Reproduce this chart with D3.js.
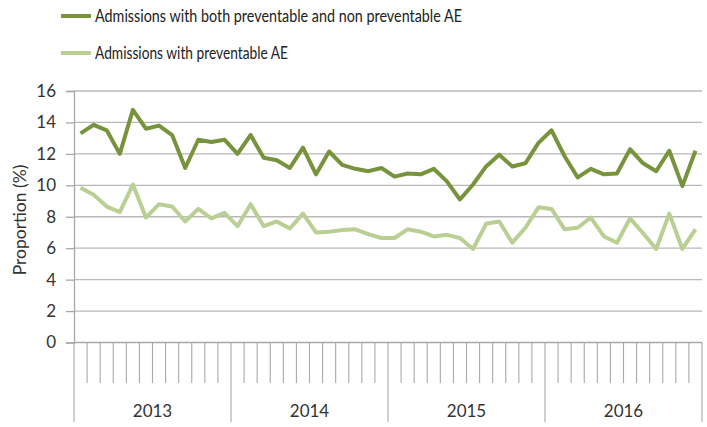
<!DOCTYPE html>
<html><head><meta charset="utf-8">
<script src="https://cdn.jsdelivr.net/npm/d3@7"></script>
<style>body{margin:0;background:#fff}svg{display:block}</style>
</head><body>
<svg id="c" width="707" height="427"></svg>
<script>
const years = ["2013","2014","2015","2016"];
const months = ["Jan","Feb","Mar","Apr","May","Jun","Jul","Aug","Sep","Oct","Nov","Dec"];
const seriesNames = ["Admissions with both preventable and non preventable AE","Admissions with preventable AE"];
const bothAE = [13.3,13.85,13.5,12.0,14.8,13.6,13.8,13.2,11.1,12.9,12.75,12.9,
  12.0,13.2,11.75,11.6,11.1,12.4,10.7,12.15,11.3,11.05,10.9,11.1,
  10.55,10.75,10.7,11.05,10.25,9.1,10.05,11.2,11.95,11.2,11.4,12.7,
  13.5,11.85,10.5,11.05,10.7,10.75,12.3,11.4,10.9,12.2,9.95,12.2];
const prevAE = [9.85,9.4,8.65,8.3,10.05,7.95,8.8,8.65,7.7,8.5,7.9,8.25,
  7.4,8.8,7.4,7.7,7.25,8.2,7.0,7.05,7.15,7.2,6.9,6.65,
  6.65,7.2,7.05,6.75,6.85,6.65,5.95,7.55,7.7,6.35,7.3,8.6,
  8.5,7.2,7.3,7.95,6.75,6.35,7.9,6.95,5.95,8.2,5.95,7.2];
const yTicks = [0,2,4,6,8,10,12,14,16];
const colors = ["#77933c","#b9cf93"];

const FONT = "Lato, 'Open Sans', sans-serif";
const svg = d3.select("#c");
const L = 74, R = 702, T = 91, B = 342.5;
const cats = [];
years.forEach(y => months.forEach(m => cats.push(y + "-" + m)));
const x = d3.scaleBand().domain(cats).range([L, R]);
const xYear = d3.scaleBand().domain(years).range([L, R]);
const y = d3.scaleLinear().domain([0, 16]).range([B, T]);

// gridlines
svg.append("g").selectAll("line").data(yTicks.filter(d => d > 0)).join("line")
  .attr("x1", L).attr("x2", R).attr("y1", d => y(d)).attr("y2", d => y(d))
  .attr("stroke", "#b8b8b8").attr("stroke-width", 1.3);

// y axis
const yAxis = svg.append("g").attr("transform", `translate(${L},0)`)
  .call(d3.axisLeft(y).tickValues(yTicks).tickSize(8).tickPadding(10));
yAxis.select(".domain").attr("stroke", "#a8a8a8").attr("stroke-width", 1.3);
yAxis.selectAll(".tick line").attr("stroke", "#a8a8a8").attr("stroke-width", 1.3);
yAxis.selectAll("text").attr("font-family", FONT).attr("font-size", 17).attr("fill", "#333");

svg.append("text").attr("transform", `translate(26,220) rotate(-90)`)
  .attr("text-anchor", "middle").attr("font-family", FONT)
  .attr("font-size", 17.5).attr("fill", "#333").text("Proportion (%)");

// x axis
svg.append("line").attr("x1", L).attr("x2", R).attr("y1", B).attr("y2", B)
  .attr("stroke", "#a8a8a8").attr("stroke-width", 1.3);
const bounds = cats.map(c => x(c)).concat([R]);
svg.append("g").selectAll("line").data(bounds).join("line")
  .attr("x1", d => d).attr("x2", d => d).attr("y1", B)
  .attr("y2", (d, i) => i % 12 === 0 ? 422 : 383)
  .attr("stroke", "#a8a8a8").attr("stroke-width", 1.1);
svg.append("g").selectAll("text").data(years).join("text")
  .attr("x", d => xYear(d) + xYear.bandwidth() / 2).attr("y", 417)
  .attr("text-anchor", "middle").attr("font-family", FONT)
  .attr("font-size", 17).attr("fill", "#333").text(d => d);

// lines
const line = d3.line().x((d, i) => x(cats[i]) + x.bandwidth() / 2).y(d => y(d));
[prevAE, bothAE].forEach((s, k) => {
  svg.append("path").datum(s).attr("d", line).attr("fill", "none")
    .attr("stroke", colors[1 - k]).attr("stroke-width", 4).attr("stroke-linejoin", "round");
});

// legend
const lg = svg.append("g");
const legendLen = [367, 193];
seriesNames.forEach((n, i) => {
  const yy = 16 + i * 37;
  lg.append("line").attr("x1", 61).attr("x2", 91).attr("y1", yy).attr("y2", yy)
    .attr("stroke", colors[i]).attr("stroke-width", 4);
  lg.append("text").attr("x", 95).attr("y", yy + 6).attr("font-family", FONT)
    .attr("font-size", 16.5).attr("fill", "#222")
    .attr("textLength", legendLen[i]).attr("lengthAdjust", "spacingAndGlyphs").text(n);
});
</script>
</body></html>
